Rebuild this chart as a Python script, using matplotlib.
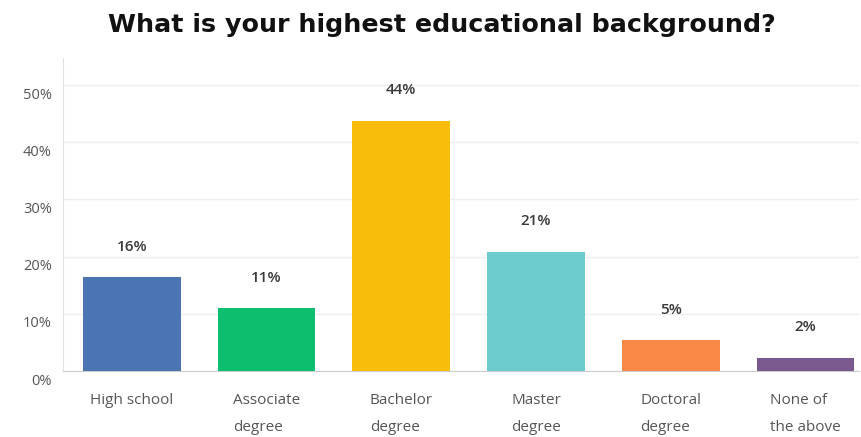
import matplotlib
matplotlib.use("Agg")
import matplotlib.pyplot as plt
import matplotlib.transforms as mtrans

categories = ["High school", "Associate\ndegree", "Bachelor\ndegree", "Master\ndegree", "Doctoral\ndegree", "None of\nthe above"]
values = [16.4, 11.0, 43.7, 20.8, 5.4, 2.3]
value_labels = ["16%", "11%", "44%", "21%", "5%", "2%"]
colors = ["#4a75b2", "#0cbf6e", "#f8bd0b", "#6ccbcd", "#fa8847", "#7a5a8e"]
yticks = [0, 10, 20, 30, 40, 50]
ytick_labels = ["0%", "10%", "20%", "30%", "40%", "50%"]
title = "What is your highest educational background?"

fig = plt.figure(figsize=(8.61, 4.37), dpi=100)
ax = fig.add_axes([0.0732, 0.151, 0.925, 0.716])

x = range(len(categories))
bars = ax.bar(x, values, width=0.725, color=colors, zorder=3)
for xi, v, lab in zip(x, values, value_labels):
    ax.annotate(lab, (xi, v), xytext=(0, 22), textcoords="offset points",
                ha="center", va="center", fontsize=11, color="#3a3a3a",
                family="Open Sans", fontweight="semibold")

ax.set_xlim(-0.51, 5.4)
ax.set_ylim(0, 54.7)
ax.set_yticks(yticks)
ax.set_yticklabels(ytick_labels, family="Open Sans", fontsize=10.5, color="#555555")
ax.set_xticks(list(x))
ax.set_xticklabels(categories, family="Open Sans", fontsize=11, color="#555555",
                   multialignment="left", linespacing=2.05, va="top")
ax.tick_params(axis="both", length=0)
ax.tick_params(axis="x", pad=16)
ax.tick_params(axis="y", pad=8)
off = mtrans.ScaledTranslation(0, -8 / 100, fig.dpi_scale_trans)
for t in ax.get_yticklabels():
    t.set_transform(t.get_transform() + off)

ax.grid(axis="y", color="#eeeeee", linewidth=1, zorder=0)
for s in ["top", "right"]:
    ax.spines[s].set_visible(False)
ax.spines["left"].set_color("#e2e2e2")
ax.spines["bottom"].set_color("#cccccc")

fig.text(0.513, 0.943, title, ha="center", va="center", fontsize=18.3,
         fontweight="bold", family="DejaVu Sans", color="#111111")

fig.savefig("out.png", dpi=100)
